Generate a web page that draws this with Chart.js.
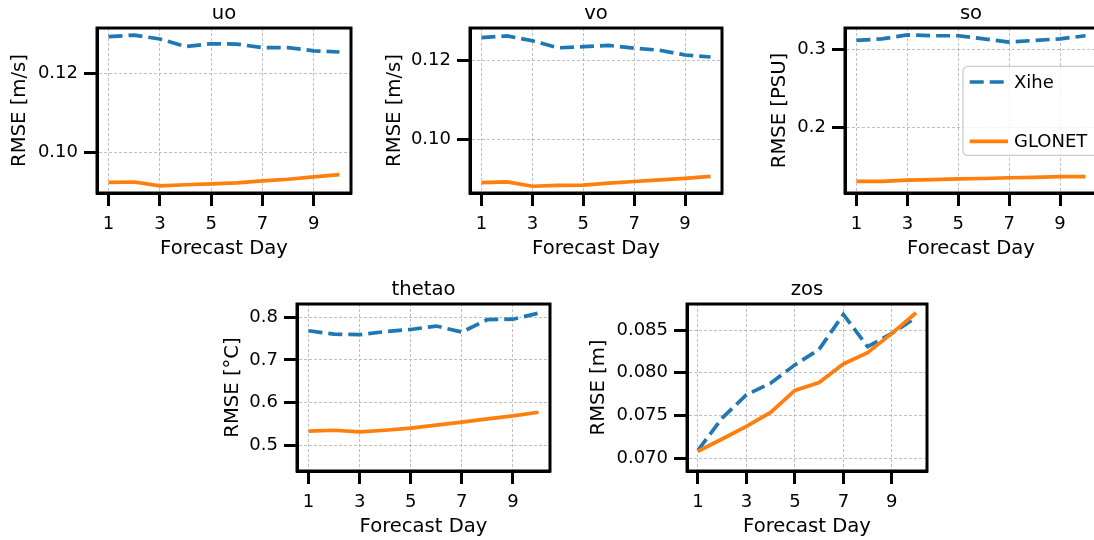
<!DOCTYPE html>
<html>
<head>
<meta charset="utf-8">
<script src="https://cdn.jsdelivr.net/npm/chart.js@4.4.1/dist/chart.umd.min.js"></script>
<style>
  html, body { margin: 0; padding: 0; background: #fff; overflow: hidden; width: 1094px; height: 540px; }
  canvas { position: absolute; }
</style>
</head>
<body>
<script>
// data
const days = [1, 2, 3, 4, 5, 6, 7, 8, 9, 10];
const xTicks = [1, 3, 5, 7, 9];
const xRange = [0.55, 10.45];
const seriesNames = ['Xihe', 'GLONET'];

const uoXihe = [0.1294, 0.1298, 0.1288, 0.1269, 0.1276, 0.1275, 0.1266, 0.1266, 0.1258, 0.1255];
const uoGlonet = [0.0923, 0.0924, 0.0914, 0.0917, 0.0919, 0.0922, 0.0927, 0.0931, 0.0937, 0.0943];
const uoTicks = [0.10, 0.12];
const uoRange = [0.0896, 0.1316];

const voXihe = [0.1257, 0.1261, 0.1249, 0.1231, 0.1234, 0.1237, 0.1230, 0.1225, 0.1213, 0.1208];
const voGlonet = [0.0891, 0.0893, 0.0882, 0.0884, 0.0885, 0.0890, 0.0894, 0.0898, 0.0902, 0.0907];
const voTicks = [0.10, 0.12];
const voRange = [0.0865, 0.1281];

const soXihe = [0.311, 0.313, 0.318, 0.317, 0.317, 0.313, 0.309, 0.311, 0.313, 0.317];
const soGlonet = [0.132, 0.132, 0.1335, 0.134, 0.135, 0.1355, 0.1365, 0.137, 0.138, 0.138];
const soTicks = [0.2, 0.3];
const soRange = [0.1171, 0.3268];

const thetaoXihe = [0.768, 0.760, 0.759, 0.766, 0.771, 0.779, 0.765, 0.794, 0.795, 0.809];
const thetaoGlonet = [0.534, 0.536, 0.532, 0.536, 0.541, 0.548, 0.555, 0.5625, 0.5695, 0.578];
const thetaoTicks = [0.5, 0.6, 0.7, 0.8];
const thetaoRange = [0.4409, 0.8304];

const zosXihe = [0.07093, 0.0747, 0.07742, 0.07878, 0.08092, 0.08274, 0.08682, 0.08305, 0.08461, 0.08647];
const zosGlonet = [0.07082, 0.07225, 0.07373, 0.07536, 0.07793, 0.07886, 0.08103, 0.08235, 0.08461, 0.08702];
const zosTicks = [0.070, 0.075, 0.080, 0.085];
const zosRange = [0.06851, 0.08804];

const FONT = "'DejaVu Sans', sans-serif";
const PAD_L = 102, PAD_R = 10, PAD_T = 28, PAD_B = 70;

// where each axes box sits on the page
const panels = [
  { title: 'uo', ylabel: 'RMSE [m/s]', xihe: uoXihe, glonet: uoGlonet, yTicks: uoTicks, yRange: uoRange, dec: 2,
    box: [97, 28, 254, 165], yTitlePad: 13.1 },
  { title: 'vo', ylabel: 'RMSE [m/s]', xihe: voXihe, glonet: voGlonet, yTicks: voTicks, yRange: voRange, dec: 2,
    box: [470, 28, 252, 165], yTitlePad: 14.8 },
  { title: 'so', ylabel: 'RMSE [PSU]', xihe: soXihe, glonet: soGlonet, yTicks: soTicks, yRange: soRange, dec: 1,
    box: [845, 28, 252, 165], yTitlePad: 24.8, legend: true },
  { title: 'thetao', ylabel: 'RMSE [°C]', xihe: thetaoXihe, glonet: thetaoGlonet, yTicks: thetaoTicks, yRange: thetaoRange, dec: 1,
    box: [297, 304, 253, 167], yTitlePad: 26.1 },
  { title: 'zos', ylabel: 'RMSE [m]', xihe: zosXihe, glonet: zosGlonet, yTicks: zosTicks, yRange: zosRange, dec: 3,
    box: [687, 304, 240, 167], yTitlePad: 1.7 }
];

// black box round the axes, like matplotlib spines
const framePlugin = {
  id: 'frame',
  afterDraw(chart) {
    const { ctx, chartArea: a } = chart;
    ctx.save();
    ctx.lineWidth = 3;
    ctx.strokeStyle = '#000';
    ctx.strokeRect(a.left, a.top, a.right - a.left, a.bottom - a.top);
    ctx.restore();
  }
};

// legend box inside the axes (only on "so")
const boxLegendPlugin = {
  id: 'boxLegend',
  afterDraw(chart, args, opts) {
    if (!opts.show) return;
    const { ctx, chartArea: a } = chart;
    const x = a.left + opts.x, y = a.top + opts.y;
    ctx.save();
    ctx.beginPath();
    ctx.roundRect(x, y, opts.w, opts.h, 5);
    ctx.fillStyle = 'rgba(255,255,255,0.8)';
    ctx.fill();
    ctx.lineWidth = 1.3;
    ctx.strokeStyle = '#cccccc';
    ctx.stroke();
    chart.data.datasets.forEach((ds, i) => {
      const ly = y + opts.firstRow + i * opts.rowGap;
      ctx.beginPath();
      ctx.setLineDash(ds.borderDash || []);
      ctx.lineWidth = ds.borderWidth;
      ctx.strokeStyle = ds.borderColor;
      ctx.moveTo(x + opts.lineX, ly);
      ctx.lineTo(x + opts.lineX + opts.lineLen, ly);
      ctx.stroke();
      ctx.setLineDash([]);
      ctx.fillStyle = '#000';
      ctx.font = '18px ' + FONT;
      ctx.textBaseline = 'middle';
      ctx.fillText(ds.label, x + opts.textX, ly + 1);
    });
    ctx.restore();
  }
};

function makeChart(p) {
  const [bx, by, bw, bh] = p.box;
  const canvas = document.createElement('canvas');
  canvas.width = PAD_L + bw + PAD_R;
  canvas.height = PAD_T + bh + PAD_B;
  canvas.style.left = (bx - PAD_L) + 'px';
  canvas.style.top = (by - PAD_T) + 'px';
  document.body.appendChild(canvas);

  const grid = {
    color: '#b0b0b0', lineWidth: 0.8,
    tickLength: 13, tickWidth: 3, tickColor: '#000'
  };
  const border = { display: true, color: '#000', width: 3, dash: [3, 2] };

  new Chart(canvas, {
    type: 'line',
    data: {
      datasets: [
        {
          label: seriesNames[0],
          data: days.map((d, i) => ({ x: d, y: p.xihe[i] })),
          borderColor: '#1f77b4', borderWidth: 3.7, borderDash: [14, 6],
          order: 1
        },
        {
          label: seriesNames[1],
          data: days.map((d, i) => ({ x: d, y: p.glonet[i] })),
          borderColor: '#ff7f0e', borderWidth: 3.7,
          order: 0
        }
      ]
    },
    options: {
      responsive: false,
      animation: false,
      devicePixelRatio: 1,
      layout: { padding: { left: 0, right: PAD_R, top: 0, bottom: 0 } },
      elements: { point: { radius: 0 }, line: { tension: 0, fill: false } },
      plugins: {
        legend: { display: false },
        tooltip: { enabled: false },
        title: {
          display: true, text: p.title, fullSize: false, color: '#000',
          font: { family: FONT, size: 19.6, weight: 'normal' },
          padding: { top: 2.5, bottom: 2 }
        },
        boxLegend: {
          show: !!p.legend, x: 118, y: 38.4, w: 145, h: 89,
          firstRow: 15.6, rowGap: 59.4, lineX: 6.7, lineLen: 38.3, textX: 51
        }
      },
      scales: {
        x: {
          type: 'linear', min: xRange[0], max: xRange[1],
          afterBuildTicks: s => { s.ticks = xTicks.map(v => ({ value: v })); },
          afterFit: s => { s.height = PAD_B; },
          ticks: {
            color: '#000', padding: 7.5, autoSkip: false, maxRotation: 0,
            font: { family: FONT, size: 18 },
            callback: v => String(v)
          },
          grid: grid,
          border: border,
          title: {
            display: true, text: 'Forecast Day', color: '#000',
            font: { family: FONT, size: 19.6 },
            padding: { top: 0, bottom: 2 }
          }
        },
        y: {
          type: 'linear', min: p.yRange[0], max: p.yRange[1],
          afterBuildTicks: s => { s.ticks = p.yTicks.map(v => ({ value: v })); },
          afterFit: s => { s.width = PAD_L; },
          ticks: {
            color: '#000', padding: 6, autoSkip: false,
            font: { family: FONT, size: 18 },
            callback: v => v.toFixed(p.dec)
          },
          grid: grid,
          border: border,
          title: {
            display: true, text: p.ylabel, color: '#000',
            font: { family: FONT, size: 19.6 },
            padding: { top: p.yTitlePad, bottom: 0 }
          }
        }
      }
    },
    plugins: [framePlugin, boxLegendPlugin]
  });
}

panels.forEach(makeChart);
</script>
</body>
</html>
